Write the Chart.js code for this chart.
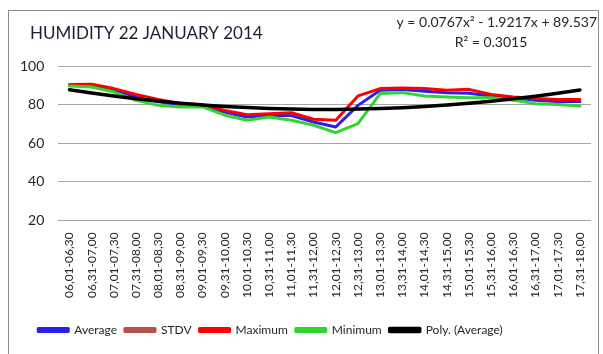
<!DOCTYPE html>
<html>
<head>
<meta charset="utf-8">
<title>Humidity 22 January 2014</title>
<script src="https://cdn.jsdelivr.net/npm/chart.js@4.4.1/dist/chart.umd.min.js"></script>
<style>
  html, body { margin: 0; padding: 0; background: #fff; }
  #wrap { width: 603px; height: 354px; position: relative; }
</style>
</head>
<body>
<div id="wrap"><canvas id="mycanvas" width="603" height="354"></canvas></div>
<script>
// half-hour time slots
var slots = ['06,01-06,30', '06,31-07,00', '07,01-07,30', '07,31-08,00', '08,01-08,30', '08,31-09,00',
             '09,01-09,30', '09,31-10,00', '10,01-10,30', '10,31-11,00', '11,01-11,30', '11,31-12,00',
             '12,01-12,30', '12,31-13,00', '13,01-13,30', '13,31-14,00', '14,01-14,30', '14,31-15,00',
             '15,01-15,30', '15,31-16,00', '16,01-16,30', '16,31-17,00', '17,01-17,30', '17,31-18,00'];

var average = [90, 89.8, 87.5, 84, 81.5, 80, 79.5, 76.2, 73.6, 74.5, 74.3, 71,
               68.4, 79.6, 87.4, 87.8, 86.9, 86.2, 85.9, 84.5, 83.5, 82.2, 81.6, 81.6];
var maximum = [90.4, 90.6, 88.3, 85.2, 82.6, 80.5, 80, 77, 74.8, 75.3, 75.8, 72.4,
               71.9, 84.5, 88.3, 88.6, 88.3, 87.4, 87.9, 85.2, 84, 83.1, 82.7, 82.6];
var minimum = [89.6, 89.1, 86.5, 82.2, 79.6, 78.8, 78.8, 74.5, 71.9, 73.6, 71.9, 69.3,
               65.5, 70.2, 85.7, 86.2, 84.5, 84, 83.5, 83.5, 82.2, 80.5, 80, 79.3];
// STDV stays below the axis floor, nothing of it shows in the plot
var stdv = [];

// trendline coefficients (x^2, x, const) and fit quality
var polyCoef = [0.0767, -1.9217, 89.537];
var rSquared = '0.3015';
var yTicks = [20, 40, 60, 80, 100];

var trend = [];
for (var i = 0; i < slots.length; i++) {
    var x = i + 1;
    trend.push(polyCoef[0] * x * x + polyCoef[1] * x + polyCoef[2]);
}

var FONT = 'Lato, "Open Sans", sans-serif';

var frame = {
    id: 'frame',
    beforeDraw: function(chart) {
        var c = chart.ctx;
        c.save();
        c.fillStyle = '#fff';
        c.fillRect(0, 0, chart.width, chart.height);
        c.strokeStyle = '#8c8c8c';
        c.lineWidth = 1;
        c.strokeRect(8.5, 10.5, 590, 345);
        c.restore();
    },
    afterLayout: function(chart) {
        // legend sits a little left of centre
        chart.legend.left -= 28;
        chart.legend.right -= 28;
    },
    afterDraw: function(chart) {
        var c = chart.ctx;
        c.save();
        c.fillStyle = '#1c1f33';
        c.font = '17px ' + FONT;
        c.textBaseline = 'middle';
        c.textAlign = 'left';
        c.fillText('HUMIDITY 22 JANUARY 2014', 30, 34);

        c.fillStyle = '#262626';
        c.font = '14px ' + FONT;
        c.textAlign = 'right';
        c.fillText('y = ' + polyCoef[0] + 'x\u00b2 - ' + Math.abs(polyCoef[1]) + 'x + ' + polyCoef[2], 597, 22);
        c.textAlign = 'center';
        c.fillText('R\u00b2 = ' + rSquared, 491, 42);
        c.restore();
    }
};

var chartdata = {
    labels: slots,
    datasets: [
        { label: 'Average', data: average, borderColor: '#2b1ff0', backgroundColor: '#2b1ff0', borderWidth: 3, order: 4 },
        { label: 'STDV', data: stdv, borderColor: '#b5504b', backgroundColor: '#b5504b', borderWidth: 3, order: 3 },
        { label: 'Maximum', data: maximum, borderColor: '#ff0000', backgroundColor: '#ff0000', borderWidth: 3, order: 2 },
        { label: 'Minimum', data: minimum, borderColor: '#2fd62f', backgroundColor: '#2fd62f', borderWidth: 3, order: 1 },
        { label: 'Poly. (Average)', data: trend, borderColor: '#000000', backgroundColor: '#000000', borderWidth: 3.5, order: 0 }
    ]
};

var ctx = document.getElementById('mycanvas');
var lineGraph = new Chart(ctx, {
    type: 'line',
    data: chartdata,
    plugins: [frame],
    options: {
        responsive: false,
        animation: false,
        layout: { padding: { top: 66, left: 6, right: 12, bottom: 8 } },
        elements: {
            point: { radius: 0 },
            line: { tension: 0, borderCapStyle: 'round', borderJoinStyle: 'round' }
        },
        plugins: {
            legend: {
                position: 'bottom',
                labels: {
                    boxWidth: 30,
                    boxHeight: 3,
                    padding: 8,
                    color: '#262626',
                    font: { family: FONT, size: 12 },
                    sort: function(a, b) { return a.datasetIndex - b.datasetIndex; }
                }
            },
            tooltip: { enabled: false }
        },
        scales: {
            x: {
                offset: true,
                grid: { display: false },
                border: { display: false },
                afterFit: function(axis) { axis.height += 14; },
                ticks: {
                    autoSkip: false,
                    minRotation: 90,
                    maxRotation: 90,
                    padding: 4,
                    color: '#262626',
                    font: { family: FONT, size: 12 }
                }
            },
            y: {
                min: 20,
                max: 100,
                afterBuildTicks: function(axis) {
                    axis.ticks = yTicks.map(function(v) { return { value: v }; });
                },
                grid: { color: '#a6a6a6', lineWidth: 1, drawTicks: false },
                border: { display: false },
                ticks: {
                    padding: 14,
                    color: '#262626',
                    font: { family: FONT, size: 14 }
                }
            }
        }
    }
});
</script>
</body>
</html>
